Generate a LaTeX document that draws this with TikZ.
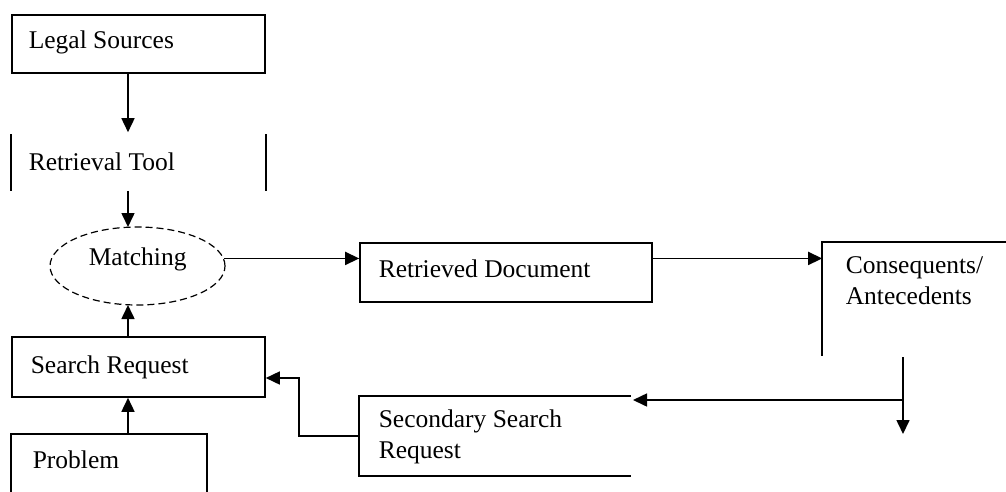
\documentclass[tikz,border=0pt]{standalone}
\usepackage{fontspec}
\setmainfont{Liberation Serif}
\usetikzlibrary{arrows.meta,shapes.geometric}
\begin{document}
\begin{tikzpicture}[x=1pt,y=-1pt,line width=1.6pt,
  frame/.style={rectangle,inner sep=0pt,minimum width=#1},
  txt/.style={anchor=base west,inner sep=0pt,font=\fontsize{25.5}{31}\selectfont},
  arr/.style={line width=1.6pt,-{Triangle[length=14pt,width=13pt]}},
  matchshape/.style={ellipse,draw,dashed,dash pattern=on 7pt off 4pt,line width=1.2pt,inner sep=0pt,minimum width=175pt,minimum height=78pt}]
\useasboundingbox (0,0) rectangle (1006,491);
% boxes
\node[frame=253pt,minimum height=58pt,draw] (legal) at (138.5,44) {};
\node[frame=253pt,minimum height=55pt] (retr) at (138.5,162.5) {};
\draw (retr.north west) -- (retr.south west);
\draw (retr.north east) -- (retr.south east);
\node[matchshape] (match) at (137.5,266) {};
\node[frame=253pt,minimum height=60pt,draw] (search) at (138.5,367) {};
\node[frame=194pt,minimum height=56pt] (problem) at (109,463) {};
\draw (problem.south west) |- (problem.north east) -- (problem.south east);
\node[frame=292pt,minimum height=59pt,draw] (retdoc) at (506,272.5) {};
\node[frame=183pt,minimum height=112pt] (conseq) at (914.5,299) {};
\draw (conseq.south west) |- (conseq.north east);
\node[frame=270pt,minimum height=78pt] (sec) at (495,436) {};
\draw (sec.north east) -- (sec.north west) -- (sec.south west) -- (sec.south east);
% texts
\node[txt] (tlegal) at (28,48) {Legal Sources};
\node[txt] (tretr) at (28,170) {Retrieval Tool};
\node[txt] (tmatch) at (88,265) {Matching};
\node[txt] (tsearch) at (30,373) {Search Request};
\node[txt] (tproblem) at (32,468) {Problem};
\node[txt] (tretdoc) at (378,277) {Retrieved Document};
\node[txt] (tsec) at (378,427) {Secondary Search};
\node[txt] (tsec2) at (378,458) {Request};
\node[txt] (tcons) at (845,273) {Consequents/};
\node[txt] (tcons2) at (845,304) {Antecedents};
% connectors
\coordinate (cdown) at (903,357);
\coordinate (cend) at (903,434);
\coordinate (junc) at (903,400);
\coordinate (secin) at (633,400);
\draw[arr] ([xshift=-10.5pt]legal.south) -- ([xshift=-10.5pt,yshift=2pt]retr.north);
\draw[arr] ([xshift=-10.5pt]retr.south) -- (128,227);
\draw[arr] ([xshift=-10.5pt]search.north) -- (128,305);
\draw[arr] (problem.north -| search.north) ++(-10.5,0) -- ([xshift=-10.5pt]search.south);
\draw[arr] (match.5) -- (match.5 -| retdoc.west);
\draw[arr] (match.5 -| retdoc.east) -- (match.5 -| conseq.west);
\draw[arr] (cdown) -- (cend);
\draw[arr] (junc) -- (secin);
\draw[arr] (sec.west) -- ++(-60,0) |- ([yshift=-11pt]search.east);
\end{tikzpicture}
\end{document}
